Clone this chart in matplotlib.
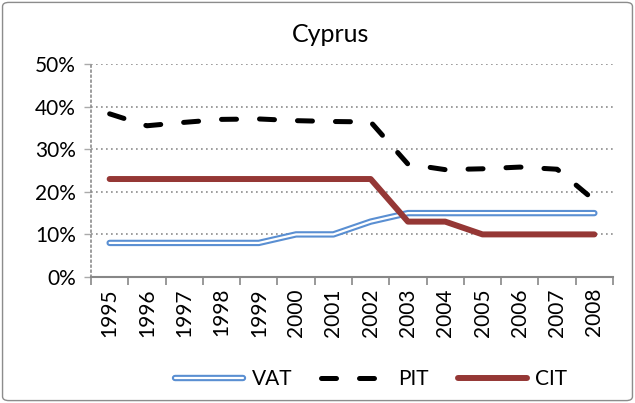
import matplotlib.pyplot as plt
from matplotlib.patches import FancyBboxPatch
from matplotlib.legend_handler import HandlerTuple

years = ['1995', '1996', '1997', '1998', '1999', '2000', '2001',
         '2002', '2003', '2004', '2005', '2006', '2007', '2008']
vat = [8, 8, 8, 8, 8, 10, 10, 13, 15, 15, 15, 15, 15, 15]
pit = [38.3, 35.5, 36.3, 37.0, 37.1, 36.7, 36.5, 36.4, 26.5, 25.2, 25.4, 25.8, 25.3, 18]
cit = [23, 23, 23, 23, 23, 23, 23, 23, 13, 13, 10, 10, 10, 10]

plt.rcParams['font.family'] = ['Lato', 'DejaVu Sans']

fig = plt.figure(figsize=(6.35, 4.03), dpi=100)
ax = fig.add_axes([91 / 635, 1 - 277 / 403, 522 / 635, 213 / 403])

x = list(range(len(years)))
v_out, = ax.plot(x, vat, color='#5a8fd2', lw=4.6, solid_capstyle='round', solid_joinstyle='round', zorder=3)
v_in, = ax.plot(x, vat, color='white', lw=1.6, solid_capstyle='round', solid_joinstyle='round', zorder=4)
p_line, = ax.plot(x, pit, color='black', lw=3.6, dashes=(3.0, 4.6), dash_capstyle='round', zorder=5)
c_line, = ax.plot(x, cit, color='#953735', lw=4.3, solid_capstyle='round', solid_joinstyle='round', zorder=4)

ax.set_xlim(-0.5, len(years) - 0.5)
ax.set_ylim(0, 50)
ax.set_yticks([0, 10, 20, 30, 40, 50])
ax.set_yticklabels([f'{v}%' for v in range(0, 51, 10)], fontsize=15)
ax.set_xticks(x)
ax.set_xticklabels(years, rotation=90, fontsize=15)
ax.set_xticks([i - 0.5 for i in range(len(years) + 1)], minor=True)
ax.tick_params(axis='x', which='major', length=0, pad=8)
ax.tick_params(axis='x', which='minor', length=6, color='#878787', width=1.2)
ax.tick_params(axis='y', length=5, color='#aaaaaa', width=1, pad=6)

ax.grid(axis='y', color='#8c8c8c', linestyle=(0, (1, 2)), linewidth=1.2)
ax.set_axisbelow(True)
for s in ['top', 'right']:
    ax.spines[s].set_visible(False)
ax.spines['left'].set_linestyle((0, (1, 2)))
ax.spines['left'].set_color('#8c8c8c')
ax.spines['left'].set_linewidth(1.2)
ax.spines['bottom'].set_color('#878787')
ax.spines['bottom'].set_linewidth(1.5)

fig.text(331 / 635, 1 - 35 / 403, 'Cyprus', ha='center', va='center', fontsize=18)

fig.legend([(v_out, v_in), p_line, c_line], ['VAT', 'PIT', 'CIT'],
           handler_map={tuple: HandlerTuple(ndivide=1)},
           loc='center', bbox_to_anchor=(371 / 635, 1 - 379 / 403), ncol=3,
           frameon=False, fontsize=15, handlelength=3.3, handletextpad=0.4,
           columnspacing=1.4)

border = FancyBboxPatch((0.004, 0.006), 0.992, 0.988, boxstyle='round,pad=0,rounding_size=0.01',
                        transform=fig.transFigure, fill=False, edgecolor='#8c8c8c', linewidth=1)
fig.patches.append(border)

fig.savefig('out.png', dpi=100)
